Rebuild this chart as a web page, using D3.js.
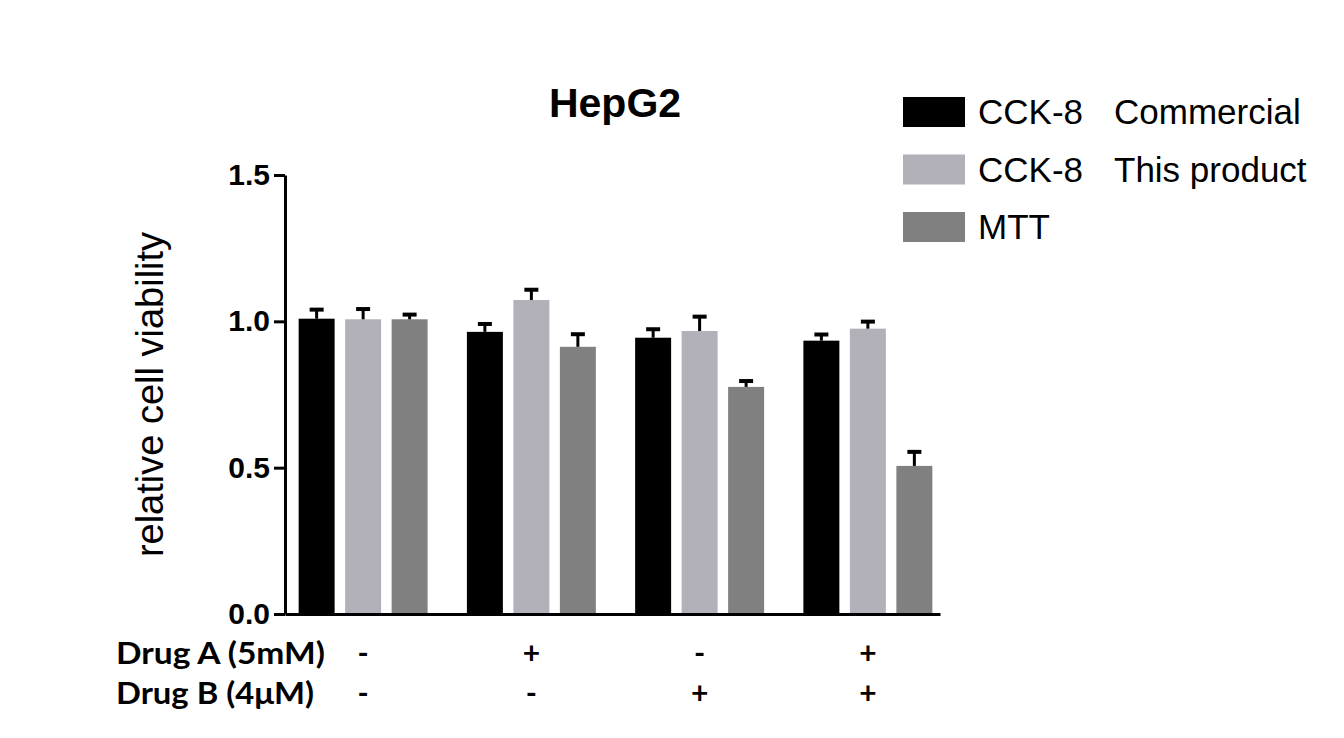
<!DOCTYPE html>
<html>
<head>
<meta charset="utf-8">
<script src="https://cdn.jsdelivr.net/npm/d3@7"></script>
<style>
  body { margin: 0; background: #fff; }
  svg { display: block; }
</style>
</head>
<body>
<div class="svg-content"></div>
<script>
// data
const groups = ["g1", "g2", "g3", "g4"];
const series = ["CCK-8 Commercial", "CCK-8 This product", "MTT"];
const legendFirst = ["CCK-8", "CCK-8", "MTT"];
const legendSecond = ["Commercial", "This product", ""];
const commercial = [1.009, 0.964, 0.944, 0.934];
const thisProduct = [1.007, 1.073, 0.967, 0.975];
const mtt = [1.007, 0.913, 0.776, 0.506];
const commercialErr = [0.031, 0.027, 0.029, 0.021];
const thisProductErr = [0.035, 0.035, 0.049, 0.024];
const mttErr = [0.016, 0.043, 0.020, 0.048];
const drugA = ["-", "+", "-", "+"];
const drugB = ["-", "-", "+", "+"];
const yTicks = [0, 0.5, 1.0, 1.5];
const colors = ["#000000", "#b2b1b9", "#808080"];

const values = [commercial, thisProduct, mtt];
const errors = [commercialErr, thisProductErr, mttErr];

const svgWidth = 1344;
const svgHeight = 738;

let svg = d3.select(".svg-content")
            .append("svg")
            .attr("width", svgWidth)
            .attr("height", svgHeight);

const yScale = d3.scaleLinear()
                 .domain([0, 1.5])
                 .range([614, 175]);

const xGroup = d3.scaleBand()
                 .domain(groups)
                 .range([279, 952])
                 .paddingInner(0.171)
                 .paddingOuter(0.0855);

const xSeries = d3.scaleBand()
                  .domain(series)
                  .range([0, xGroup.bandwidth()])
                  .paddingInner(0.226)
                  .paddingOuter(0.113);

// table built from the arrays
const rows = [];
groups.forEach((g, gi) => {
  series.forEach((s, si) => {
    rows.push({ group: g, series: s, si: si, value: values[si][gi], err: errors[si][gi] });
  });
});

const barMid = d => xGroup(d.group) + xSeries(d.series) + xSeries.bandwidth() / 2;

// bars
svg.append("g")
   .selectAll("rect")
   .data(rows)
   .enter()
   .append("rect")
   .attr("x", d => xGroup(d.group) + xSeries(d.series))
   .attr("y", d => yScale(d.value))
   .attr("width", xSeries.bandwidth())
   .attr("height", d => yScale(0) - yScale(d.value))
   .attr("fill", d => colors[d.si]);

// error bars (upper only)
const errG = svg.append("g").attr("stroke", "#000");
errG.selectAll("line.stem")
    .data(rows)
    .enter()
    .append("line")
    .attr("class", "stem")
    .attr("x1", barMid)
    .attr("x2", barMid)
    .attr("y1", d => yScale(d.value))
    .attr("y2", d => yScale(d.value + d.err))
    .attr("stroke-width", 3);
errG.selectAll("line.cap")
    .data(rows)
    .enter()
    .append("line")
    .attr("class", "cap")
    .attr("x1", d => barMid(d) - 7)
    .attr("x2", d => barMid(d) + 7)
    .attr("y1", d => yScale(d.value + d.err))
    .attr("y2", d => yScale(d.value + d.err))
    .attr("stroke-width", 4);

// y axis
const yAxis = d3.axisLeft(yScale)
                .tickValues(yTicks)
                .tickFormat(d3.format(".1f"))
                .tickSize(11)
                .tickSizeOuter(0)
                .tickPadding(4);

let yG = svg.append("g")
            .attr("transform", "translate(285,0)")
            .call(yAxis);
yG.selectAll("path, line").attr("stroke", "#000").attr("stroke-width", 3);
yG.selectAll("text")
  .attr("fill", "#000")
  .style("font-family", "'Liberation Sans', Arial, sans-serif")
  .style("font-weight", "bold")
  .style("font-size", "30px");

// x axis line
const xLine = d3.scaleLinear().domain([0, 1]).range([285, 940]);
let xG = svg.append("g")
            .attr("transform", "translate(0," + yScale(0) + ")")
            .call(d3.axisBottom(xLine).tickValues([]).tickSizeOuter(0));
xG.selectAll("path").attr("stroke", "#000").attr("stroke-width", 3);

// title
svg.append("text")
   .attr("x", 615)
   .attr("y", 117)
   .attr("text-anchor", "middle")
   .style("font-family", "'Liberation Sans', Arial, sans-serif")
   .style("font-weight", "bold")
   .style("font-size", "41px")
   .text("HepG2");

// y label
svg.append("text")
   .attr("transform", "translate(163," + ((yScale(0) + yScale(1.5)) / 2) + ") rotate(-90)")
   .attr("text-anchor", "middle")
   .style("font-family", "'Liberation Sans', Arial, sans-serif")
   .style("font-size", "38px")
   .text("relative cell viability");

// legend
let legend = svg.append("g")
                .selectAll("g")
                .data(series)
                .enter()
                .append("g")
                .attr("transform", (d, i) => "translate(903," + (112 + i * 57.5) + ")");
legend.append("rect")
      .attr("x", 0)
      .attr("y", -15)
      .attr("width", 62)
      .attr("height", 30)
      .attr("fill", (d, i) => colors[i]);
legend.append("text")
      .attr("x", 75)
      .attr("y", 12)
      .style("font-family", "'Liberation Sans', Arial, sans-serif")
      .style("font-size", "35px")
      .text((d, i) => legendFirst[i]);
legend.append("text")
      .attr("x", 211)
      .attr("y", 12)
      .style("font-family", "'Liberation Sans', Arial, sans-serif")
      .style("font-size", "35px")
      .text((d, i) => legendSecond[i]);

// treatment rows below the axis
const rowLabels = ["Drug A (5mM)", "Drug B (4\u03bcM)"];
const rowLengths = [209, 198];
const rowSigns = [drugA, drugB];
const rowY = [664, 704];
rowLabels.forEach((label, ri) => {
  svg.append("text")
     .attr("x", 116)
     .attr("y", rowY[ri])
     .attr("textLength", rowLengths[ri])
     .attr("lengthAdjust", "spacingAndGlyphs")
     .style("font-family", "Lato, 'Open Sans', sans-serif")
     .style("font-weight", "bold")
     .style("font-size", "30px")
     .text(label);
  svg.append("g")
     .selectAll("text")
     .data(groups)
     .enter()
     .append("text")
     .attr("x", d => xGroup(d) + xGroup.bandwidth() / 2)
     .attr("y", rowY[ri])
     .attr("text-anchor", "middle")
     .style("font-family", "Lato, 'Open Sans', sans-serif")
     .style("font-weight", "bold")
     .style("font-size", "30px")
     .text((d, i) => rowSigns[ri][i]);
});
</script>
</body>
</html>
